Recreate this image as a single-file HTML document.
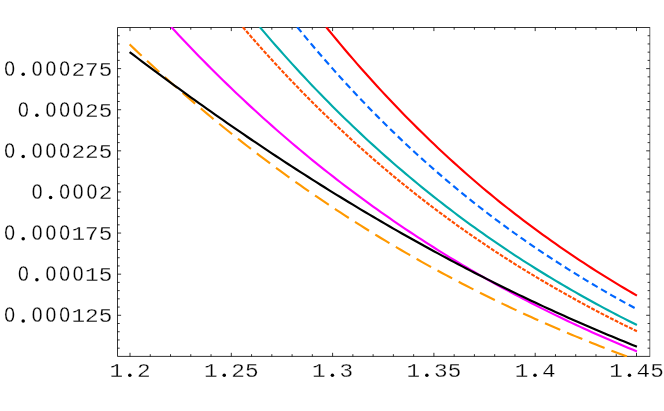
<!DOCTYPE html>
<html><head><meta charset="utf-8"><title>plot</title>
<style>
html,body{margin:0;padding:0;background:#fff;}
svg{display:block;}
text{font-family:"Liberation Mono",monospace;font-size:21.8px;fill:#000;stroke:#fff;stroke-width:0.28px;}
.d{stroke-linejoin:round;stroke:#000;stroke-width:0.8px;}
</style></head><body>
<svg width="664" height="411" viewBox="0 0 664 411">
<rect x="0" y="0" width="664" height="411" fill="#fff"/>
<defs><clipPath id="c"><rect x="117.5" y="27.0" width="532.3" height="329.9"/></clipPath><filter id="gs" x="0" y="0" width="664" height="411" filterUnits="userSpaceOnUse" color-interpolation-filters="sRGB"><feColorMatrix type="saturate" values="0"/></filter></defs>
<g stroke="#000" stroke-width="0.8" fill="none" shape-rendering="auto">
<path d="M649.8 27.5H117.5V356.4H649.8"/>
<path d="M649.8 27.1V356.79999999999995" stroke-opacity="0.75"/>
<path d="M130.00 356.40v-3.60M130.00 27.50v3.60M150.26 356.40v-2.20M150.26 27.50v2.20M170.52 356.40v-2.20M170.52 27.50v2.20M190.78 356.40v-2.20M190.78 27.50v2.20M211.04 356.40v-2.20M211.04 27.50v2.20M231.30 356.40v-3.60M231.30 27.50v3.60M251.56 356.40v-2.20M251.56 27.50v2.20M271.82 356.40v-2.20M271.82 27.50v2.20M292.08 356.40v-2.20M292.08 27.50v2.20M312.34 356.40v-2.20M312.34 27.50v2.20M332.60 356.40v-3.60M332.60 27.50v3.60M352.86 356.40v-2.20M352.86 27.50v2.20M373.12 356.40v-2.20M373.12 27.50v2.20M393.38 356.40v-2.20M393.38 27.50v2.20M413.64 356.40v-2.20M413.64 27.50v2.20M433.90 356.40v-3.60M433.90 27.50v3.60M454.16 356.40v-2.20M454.16 27.50v2.20M474.42 356.40v-2.20M474.42 27.50v2.20M494.68 356.40v-2.20M494.68 27.50v2.20M514.94 356.40v-2.20M514.94 27.50v2.20M535.20 356.40v-3.60M535.20 27.50v3.60M555.46 356.40v-2.20M555.46 27.50v2.20M575.72 356.40v-2.20M575.72 27.50v2.20M595.98 356.40v-2.20M595.98 27.50v2.20M616.24 356.40v-2.20M616.24 27.50v2.20M636.50 356.40v-3.60M636.50 27.50v3.60M117.50 348.18h2.20M649.80 348.18h-2.20M117.50 339.95h2.20M649.80 339.95h-2.20M117.50 331.73h2.20M649.80 331.73h-2.20M117.50 323.51h2.20M649.80 323.51h-2.20M117.50 315.29h3.60M649.80 315.29h-3.60M117.50 307.06h2.20M649.80 307.06h-2.20M117.50 298.84h2.20M649.80 298.84h-2.20M117.50 290.62h2.20M649.80 290.62h-2.20M117.50 282.40h2.20M649.80 282.40h-2.20M117.50 274.17h3.60M649.80 274.17h-3.60M117.50 265.95h2.20M649.80 265.95h-2.20M117.50 257.73h2.20M649.80 257.73h-2.20M117.50 249.51h2.20M649.80 249.51h-2.20M117.50 241.28h2.20M649.80 241.28h-2.20M117.50 233.06h3.60M649.80 233.06h-3.60M117.50 224.84h2.20M649.80 224.84h-2.20M117.50 216.62h2.20M649.80 216.62h-2.20M117.50 208.39h2.20M649.80 208.39h-2.20M117.50 200.17h2.20M649.80 200.17h-2.20M117.50 191.95h3.60M649.80 191.95h-3.60M117.50 183.73h2.20M649.80 183.73h-2.20M117.50 175.50h2.20M649.80 175.50h-2.20M117.50 167.28h2.20M649.80 167.28h-2.20M117.50 159.06h2.20M649.80 159.06h-2.20M117.50 150.84h3.60M649.80 150.84h-3.60M117.50 142.61h2.20M649.80 142.61h-2.20M117.50 134.39h2.20M649.80 134.39h-2.20M117.50 126.17h2.20M649.80 126.17h-2.20M117.50 117.95h2.20M649.80 117.95h-2.20M117.50 109.72h3.60M649.80 109.72h-3.60M117.50 101.50h2.20M649.80 101.50h-2.20M117.50 93.28h2.20M649.80 93.28h-2.20M117.50 85.06h2.20M649.80 85.06h-2.20M117.50 76.83h2.20M649.80 76.83h-2.20M117.50 68.61h3.60M649.80 68.61h-3.60M117.50 60.39h2.20M649.80 60.39h-2.20M117.50 52.17h2.20M649.80 52.17h-2.20M117.50 43.94h2.20M649.80 43.94h-2.20M117.50 35.72h2.20M649.80 35.72h-2.20" stroke-width="0.8"/>
</g>
<g clip-path="url(#c)" fill="none" stroke-linecap="butt" stroke-linejoin="round">
<path d="M326.14 27.00 L328.55 29.96 L332.60 34.91 L336.65 39.80 L340.70 44.65 L344.76 49.46 L348.81 54.21 L352.86 58.92 L356.91 63.59 L360.96 68.21 L365.02 72.78 L369.07 77.31 L373.12 81.80 L377.17 86.24 L381.22 90.64 L385.28 95.00 L389.33 99.32 L393.38 103.59 L397.43 107.82 L401.48 112.01 L405.54 116.16 L409.59 120.27 L413.64 124.34 L417.69 128.37 L421.74 132.35 L425.80 136.31 L429.85 140.22 L433.90 144.09 L437.95 147.93 L442.00 151.73 L446.06 155.49 L450.11 159.21 L454.16 162.90 L458.21 166.55 L462.26 170.17 L466.32 173.75 L470.37 177.29 L474.42 180.80 L478.47 184.28 L482.52 187.71 L486.58 191.09 L490.63 194.44 L494.68 197.76 L498.73 201.04 L502.78 204.29 L506.84 207.51 L510.89 210.70 L514.94 213.85 L518.99 216.97 L523.04 220.07 L527.10 223.13 L531.15 226.16 L535.20 229.16 L539.25 232.13 L543.30 235.07 L547.36 237.98 L551.41 240.87 L555.46 243.72 L559.51 246.55 L563.56 249.35 L567.62 252.13 L571.67 254.88 L575.72 257.61 L579.77 260.31 L583.82 262.97 L587.88 265.62 L591.93 268.23 L595.98 270.83 L600.03 273.39 L604.08 275.93 L608.14 278.44 L612.19 280.93 L616.24 283.39 L620.29 285.83 L624.34 288.25 L628.40 290.64 L632.45 293.00 L636.50 295.34 L636.91 295.58" stroke="#ff0000" stroke-width="2.15"/>
<path d="M297.19 27.00 L300.18 30.67 L304.24 35.58 L308.29 40.45 L312.34 45.27 L316.39 50.05 L320.44 54.77 L324.50 59.45 L328.55 64.08 L332.60 68.66 L336.65 73.19 L340.70 77.68 L344.76 82.13 L348.81 86.53 L352.86 90.89 L356.91 95.20 L360.96 99.47 L365.02 103.70 L369.07 107.88 L373.12 112.02 L377.17 116.12 L381.22 120.18 L385.28 124.20 L389.33 128.18 L393.38 132.11 L397.43 136.01 L401.48 139.87 L405.54 143.69 L409.59 147.47 L413.64 151.22 L417.69 154.92 L421.74 158.59 L425.80 162.22 L429.85 165.82 L433.90 169.38 L437.95 172.90 L442.00 176.39 L446.06 179.84 L450.11 183.26 L454.16 186.64 L458.21 189.99 L462.26 193.31 L466.32 196.59 L470.37 199.84 L474.42 203.06 L478.47 206.24 L482.52 209.39 L486.58 212.51 L490.63 215.60 L494.68 218.66 L498.73 221.69 L502.78 224.69 L506.84 227.65 L510.89 230.59 L514.94 233.50 L518.99 236.38 L523.04 239.23 L527.10 242.05 L531.15 244.84 L535.20 247.61 L539.25 250.34 L543.30 253.05 L547.36 255.74 L551.41 258.39 L555.46 261.02 L559.51 263.62 L563.56 266.23 L567.62 268.81 L571.67 271.36 L575.72 273.89 L579.77 276.40 L583.82 278.88 L587.88 281.34 L591.93 283.77 L595.98 286.18 L600.03 288.56 L604.08 290.92 L608.14 293.26 L612.19 295.57 L616.24 297.86 L620.29 300.13 L624.34 302.37 L628.40 304.60 L632.45 306.80 L636.50 308.98 L636.91 309.20" stroke="#0066ff" stroke-width="2.15" stroke-dasharray="6.64 3.98"/>
<path d="M259.76 27.00 L263.72 31.67 L267.77 36.40 L271.82 41.08 L275.87 45.73 L279.92 50.33 L283.98 54.89 L288.03 59.40 L292.08 63.88 L296.13 68.31 L300.18 72.70 L304.24 77.05 L308.29 81.37 L312.34 85.64 L316.39 89.87 L320.44 94.06 L324.50 98.21 L328.55 102.33 L332.60 106.41 L336.65 110.45 L340.70 114.45 L344.76 118.41 L348.81 122.34 L352.86 126.23 L356.91 130.08 L360.96 133.90 L365.02 137.68 L369.07 141.43 L373.12 145.14 L377.17 148.82 L381.22 152.47 L385.28 156.08 L389.33 159.65 L393.38 163.19 L397.43 166.70 L401.48 170.18 L405.54 173.62 L409.59 177.03 L413.64 180.41 L417.69 183.76 L421.74 187.08 L425.80 190.36 L429.85 193.62 L433.90 196.84 L437.95 200.03 L442.00 203.20 L446.06 206.33 L450.11 209.43 L454.16 212.51 L458.21 215.56 L462.26 218.57 L466.32 221.56 L470.37 224.52 L474.42 227.45 L478.47 230.36 L482.52 233.24 L486.58 236.08 L490.63 238.91 L494.68 241.70 L498.73 244.47 L502.78 247.22 L506.84 249.93 L510.89 252.63 L514.94 255.29 L518.99 257.93 L523.04 260.55 L527.10 263.14 L531.15 265.70 L535.20 268.25 L539.25 270.76 L543.30 273.26 L547.36 275.73 L551.41 278.17 L555.46 280.60 L559.51 283.00 L563.56 285.39 L567.62 287.76 L571.67 290.10 L575.72 292.43 L579.77 294.73 L583.82 297.01 L587.88 299.27 L591.93 301.51 L595.98 303.73 L600.03 305.92 L604.08 308.10 L608.14 310.25 L612.19 312.38 L616.24 314.50 L620.29 316.59 L624.34 318.66 L628.40 320.71 L632.45 322.75 L636.50 324.76 L636.91 324.96" stroke="#00aaaa" stroke-width="2.15"/>
<path d="M242.76 27.00 L243.46 27.82 L247.51 32.52 L251.56 37.17 L255.61 41.79 L259.66 46.36 L263.72 50.90 L267.77 55.39 L271.82 59.84 L275.87 64.25 L279.92 68.62 L283.98 72.95 L288.03 77.24 L292.08 81.49 L296.13 85.71 L300.18 89.88 L304.24 94.02 L308.29 98.12 L312.34 102.18 L316.39 106.21 L320.44 110.19 L324.50 114.15 L328.55 118.06 L332.60 121.94 L336.65 125.79 L340.70 129.59 L344.76 133.37 L348.81 137.11 L352.86 140.81 L356.91 144.49 L360.96 148.12 L365.02 151.73 L369.07 155.30 L373.12 158.84 L377.17 162.34 L381.22 165.82 L385.28 169.26 L389.33 172.67 L393.38 176.05 L397.43 179.39 L401.48 182.71 L405.54 186.00 L409.59 189.25 L413.64 192.48 L417.69 195.67 L421.74 198.84 L425.80 201.98 L429.85 205.08 L433.90 208.16 L437.95 211.21 L442.00 214.23 L446.06 217.23 L450.11 220.19 L454.16 223.13 L458.21 226.04 L462.26 228.93 L466.32 231.79 L470.37 234.62 L474.42 237.42 L478.47 240.20 L482.52 242.95 L486.58 245.68 L490.63 248.38 L494.68 251.06 L498.73 253.71 L502.78 256.33 L506.84 258.93 L510.89 261.51 L514.94 264.06 L518.99 266.59 L523.04 269.10 L527.10 271.58 L531.15 274.04 L535.20 276.48 L539.25 278.89 L543.30 281.28 L547.36 283.65 L551.41 285.99 L555.46 288.31 L559.51 290.61 L563.56 292.92 L567.62 295.21 L571.67 297.48 L575.72 299.73 L579.77 301.95 L583.82 304.16 L587.88 306.34 L591.93 308.51 L595.98 310.65 L600.03 312.78 L604.08 314.88 L608.14 316.97 L612.19 319.03 L616.24 321.08 L620.29 323.11 L624.34 325.11 L628.40 327.10 L632.45 329.07 L636.50 331.03 L636.91 331.22" stroke="#ff4d00" stroke-width="2.15" stroke-dasharray="3.9 1.4"/>
<path d="M171.24 27.00 L174.57 30.60 L178.62 34.94 L182.68 39.25 L186.73 43.52 L190.78 47.76 L194.83 51.96 L198.88 56.13 L202.94 60.27 L206.99 64.37 L211.04 68.44 L215.09 72.48 L219.14 76.48 L223.20 80.45 L227.25 84.39 L231.30 88.30 L235.35 92.17 L239.40 96.02 L243.46 99.83 L247.51 103.61 L251.56 107.36 L255.61 111.08 L259.66 114.77 L263.72 118.43 L267.77 122.06 L271.82 125.66 L275.87 129.23 L279.92 132.77 L283.98 136.28 L288.03 139.76 L292.08 143.21 L296.13 146.64 L300.18 150.03 L304.24 153.40 L308.29 156.74 L312.34 160.05 L316.39 163.34 L320.44 166.59 L324.50 169.82 L328.55 173.03 L332.60 176.20 L336.65 179.35 L340.70 182.48 L344.76 185.58 L348.81 188.65 L352.86 191.69 L356.91 194.72 L360.96 197.71 L365.02 200.68 L369.07 203.63 L373.12 206.55 L377.17 209.44 L381.22 212.31 L385.28 215.16 L389.33 217.98 L393.38 220.78 L397.43 223.56 L401.48 226.31 L405.54 229.04 L409.59 231.74 L413.64 234.43 L417.69 237.09 L421.74 239.72 L425.80 242.34 L429.85 244.93 L433.90 247.50 L437.95 250.05 L442.00 252.57 L446.06 255.08 L450.11 257.56 L454.16 260.02 L458.21 262.47 L462.26 264.89 L466.32 267.28 L470.37 269.66 L474.42 272.02 L478.47 274.36 L482.52 276.68 L486.58 278.97 L490.63 281.25 L494.68 283.51 L498.73 285.75 L502.78 287.97 L506.84 290.17 L510.89 292.35 L514.94 294.51 L518.99 296.65 L523.04 298.78 L527.10 300.88 L531.15 302.97 L535.20 305.04 L539.25 307.09 L543.30 309.12 L547.36 311.14 L551.41 313.13 L555.46 315.11 L559.51 317.08 L563.56 319.02 L567.62 320.95 L571.67 322.86 L575.72 324.76 L579.77 326.63 L583.82 328.50 L587.88 330.34 L591.93 332.17 L595.98 333.98 L600.03 335.78 L604.08 337.56 L608.14 339.32 L612.19 341.07 L616.24 342.80 L620.29 344.52 L624.34 346.22 L628.40 347.91 L632.45 349.58 L636.50 351.24 L636.91 351.41" stroke="#ff00ff" stroke-width="2.15"/>
<path d="M129.59 44.38 L130.00 44.77 L134.05 48.63 L138.10 52.46 L142.16 56.27 L146.21 60.05 L150.26 63.81 L154.31 67.53 L158.36 71.23 L162.42 74.91 L166.47 78.56 L170.52 82.18 L174.57 85.78 L178.62 89.35 L182.68 92.89 L186.73 96.41 L190.78 99.90 L194.83 103.37 L198.88 106.82 L202.94 110.24 L206.99 113.63 L211.04 117.00 L215.09 120.35 L219.14 123.67 L223.20 126.97 L227.25 130.24 L231.30 133.49 L235.35 136.72 L239.40 139.92 L243.46 143.10 L247.51 146.25 L251.56 149.38 L255.61 152.49 L259.66 155.58 L263.72 158.65 L267.77 161.69 L271.82 164.71 L275.87 167.70 L279.92 170.68 L283.98 173.63 L288.03 176.56 L292.08 179.47 L296.13 182.36 L300.18 185.22 L304.24 188.07 L308.29 190.89 L312.34 193.69 L316.39 196.47 L320.44 199.23 L324.50 201.97 L328.55 204.69 L332.60 207.39 L336.65 210.07 L340.70 212.72 L344.76 215.36 L348.81 217.98 L352.86 220.58 L356.91 223.16 L360.96 225.71 L365.02 228.25 L369.07 230.77 L373.12 233.27 L377.17 235.76 L381.22 238.22 L385.28 240.66 L389.33 243.09 L393.38 245.49 L397.43 247.88 L401.48 250.25 L405.54 252.60 L409.59 254.94 L413.64 257.25 L417.69 259.55 L421.74 261.83 L425.80 264.09 L429.85 266.34 L433.90 268.56 L437.95 270.77 L442.00 272.97 L446.06 275.14 L450.11 277.30 L454.16 279.44 L458.21 281.57 L462.26 283.68 L466.32 285.77 L470.37 287.84 L474.42 289.90 L478.47 291.94 L482.52 293.97 L486.58 295.98 L490.63 297.98 L494.68 299.96 L498.73 301.92 L502.78 303.87 L506.84 305.80 L510.89 307.72 L514.94 309.62 L518.99 311.51 L523.04 313.38 L527.10 315.23 L531.15 317.08 L535.20 318.90 L539.25 320.72 L543.30 322.51 L547.36 324.30 L551.41 326.07 L555.46 327.82 L559.51 329.56 L563.56 331.29 L567.62 333.00 L571.67 334.70 L575.72 336.38 L579.77 338.06 L583.82 339.71 L587.88 341.36 L591.93 342.99 L595.98 344.61 L600.03 346.21 L604.08 347.80 L608.14 349.38 L612.19 350.95 L616.24 352.50 L620.29 354.04 L624.34 355.57 L627.91 356.90" stroke="#ff9900" stroke-width="2.15" stroke-dasharray="16.6 7.35"/>
<path d="M129.59 52.07 L130.00 52.38 L134.05 55.44 L138.10 58.50 L142.16 61.55 L146.21 64.58 L150.26 67.61 L154.31 70.62 L158.36 73.63 L162.42 76.62 L166.47 79.60 L170.52 82.58 L174.57 85.54 L178.62 88.49 L182.68 91.43 L186.73 94.36 L190.78 97.28 L194.83 100.19 L198.88 103.09 L202.94 105.97 L206.99 108.85 L211.04 111.71 L215.09 114.57 L219.14 117.41 L223.20 120.24 L227.25 123.06 L231.30 125.87 L235.35 128.66 L239.40 131.45 L243.46 134.22 L247.51 136.99 L251.56 139.74 L255.61 142.48 L259.66 145.21 L263.72 147.92 L267.77 150.63 L271.82 153.32 L275.87 156.00 L279.92 158.67 L283.98 161.33 L288.03 163.98 L292.08 166.61 L296.13 169.23 L300.18 171.84 L304.24 174.44 L308.29 177.03 L312.34 179.60 L316.39 182.17 L320.44 184.72 L324.50 187.26 L328.55 189.79 L332.60 192.30 L336.65 194.80 L340.70 197.29 L344.76 199.77 L348.81 202.24 L352.86 204.69 L356.91 207.14 L360.96 209.57 L365.02 211.99 L369.07 214.39 L373.12 216.79 L377.17 219.17 L381.22 221.54 L385.28 223.89 L389.33 226.24 L393.38 228.57 L397.43 230.89 L401.48 233.20 L405.54 235.50 L409.59 237.78 L413.64 240.06 L417.69 242.31 L421.74 244.56 L425.80 246.80 L429.85 249.02 L433.90 251.23 L437.95 253.43 L442.00 255.62 L446.06 257.79 L450.11 259.95 L454.16 262.10 L458.21 264.24 L462.26 266.37 L466.32 268.48 L470.37 270.58 L474.42 272.67 L478.47 274.75 L482.52 276.81 L486.58 278.87 L490.63 280.91 L494.68 282.94 L498.73 284.95 L502.78 286.96 L506.84 288.95 L510.89 290.93 L514.94 292.90 L518.99 294.86 L523.04 296.80 L527.10 298.74 L531.15 300.66 L535.20 302.57 L539.25 304.46 L543.30 306.35 L547.36 308.22 L551.41 310.08 L555.46 311.93 L559.51 313.77 L563.56 315.60 L567.62 317.41 L571.67 319.22 L575.72 321.01 L579.77 322.79 L583.82 324.56 L587.88 326.31 L591.93 328.06 L595.98 329.79 L600.03 331.51 L604.08 333.22 L608.14 334.92 L612.19 336.61 L616.24 338.29 L620.29 339.95 L624.34 341.61 L628.40 343.25 L632.45 344.88 L636.50 346.50 L636.91 346.66" stroke="#000000" stroke-width="2.15"/>
</g>
<g filter="url(#gs)" text-anchor="middle">
<text transform="translate(116.30 376.60) scale(1.04 0.906)">1</text>
<circle cx="129.80" cy="375.30" r="1.75" fill="#000"/>
<text transform="translate(143.70 376.60) scale(1.04 0.906)">2</text>
<text transform="translate(210.75 376.60) scale(1.04 0.906)">1</text>
<circle cx="224.25" cy="375.30" r="1.75" fill="#000"/>
<text transform="translate(238.15 376.60) scale(1.04 0.906)">2</text>
<text transform="translate(251.85 376.60) scale(1.04 0.906)">5</text>
<text transform="translate(318.90 376.60) scale(1.04 0.906)">1</text>
<circle cx="332.40" cy="375.30" r="1.75" fill="#000"/>
<text transform="translate(346.30 376.60) scale(1.04 0.906)">3</text>
<text transform="translate(413.35 376.60) scale(1.04 0.906)">1</text>
<circle cx="426.85" cy="375.30" r="1.75" fill="#000"/>
<text transform="translate(440.75 376.60) scale(1.04 0.906)">3</text>
<text transform="translate(454.45 376.60) scale(1.04 0.906)">5</text>
<text transform="translate(521.50 376.60) scale(1.04 0.906)">1</text>
<circle cx="535.00" cy="375.30" r="1.75" fill="#000"/>
<text transform="translate(548.90 376.60) scale(1.04 0.906)">4</text>
<text transform="translate(615.95 376.60) scale(1.04 0.906)">1</text>
<circle cx="629.45" cy="375.30" r="1.75" fill="#000"/>
<text transform="translate(643.35 376.60) scale(1.04 0.906)">4</text>
<text transform="translate(657.05 376.60) scale(1.04 0.906)">5</text>
<text transform="translate(9.70 322.19) scale(0.86 0.99)">O</text>
<circle cx="23.20" cy="320.89" r="1.75" fill="#000"/>
<text transform="translate(37.10 322.19) scale(0.86 0.99)">O</text>
<text transform="translate(50.80 322.19) scale(0.86 0.99)">O</text>
<text transform="translate(64.50 322.19) scale(0.86 0.99)">O</text>
<text transform="translate(78.20 322.19) scale(1.04 0.906)">1</text>
<text transform="translate(91.90 322.19) scale(1.04 0.906)">2</text>
<text transform="translate(105.60 322.19) scale(1.04 0.906)">5</text>
<text transform="translate(23.40 281.07) scale(0.86 0.99)">O</text>
<circle cx="36.90" cy="279.77" r="1.75" fill="#000"/>
<text transform="translate(50.80 281.07) scale(0.86 0.99)">O</text>
<text transform="translate(64.50 281.07) scale(0.86 0.99)">O</text>
<text transform="translate(78.20 281.07) scale(0.86 0.99)">O</text>
<text transform="translate(91.90 281.07) scale(1.04 0.906)">1</text>
<text transform="translate(105.60 281.07) scale(1.04 0.906)">5</text>
<text transform="translate(9.70 239.96) scale(0.86 0.99)">O</text>
<circle cx="23.20" cy="238.66" r="1.75" fill="#000"/>
<text transform="translate(37.10 239.96) scale(0.86 0.99)">O</text>
<text transform="translate(50.80 239.96) scale(0.86 0.99)">O</text>
<text transform="translate(64.50 239.96) scale(0.86 0.99)">O</text>
<text transform="translate(78.20 239.96) scale(1.04 0.906)">1</text>
<text transform="translate(91.90 239.96) scale(1.04 0.906)">7</text>
<text transform="translate(105.60 239.96) scale(1.04 0.906)">5</text>
<text transform="translate(37.10 198.85) scale(0.86 0.99)">O</text>
<circle cx="50.60" cy="197.55" r="1.75" fill="#000"/>
<text transform="translate(64.50 198.85) scale(0.86 0.99)">O</text>
<text transform="translate(78.20 198.85) scale(0.86 0.99)">O</text>
<text transform="translate(91.90 198.85) scale(0.86 0.99)">O</text>
<text transform="translate(105.60 198.85) scale(1.04 0.906)">2</text>
<text transform="translate(9.70 157.74) scale(0.86 0.99)">O</text>
<circle cx="23.20" cy="156.44" r="1.75" fill="#000"/>
<text transform="translate(37.10 157.74) scale(0.86 0.99)">O</text>
<text transform="translate(50.80 157.74) scale(0.86 0.99)">O</text>
<text transform="translate(64.50 157.74) scale(0.86 0.99)">O</text>
<text transform="translate(78.20 157.74) scale(1.04 0.906)">2</text>
<text transform="translate(91.90 157.74) scale(1.04 0.906)">2</text>
<text transform="translate(105.60 157.74) scale(1.04 0.906)">5</text>
<text transform="translate(23.40 116.62) scale(0.86 0.99)">O</text>
<circle cx="36.90" cy="115.32" r="1.75" fill="#000"/>
<text transform="translate(50.80 116.62) scale(0.86 0.99)">O</text>
<text transform="translate(64.50 116.62) scale(0.86 0.99)">O</text>
<text transform="translate(78.20 116.62) scale(0.86 0.99)">O</text>
<text transform="translate(91.90 116.62) scale(1.04 0.906)">2</text>
<text transform="translate(105.60 116.62) scale(1.04 0.906)">5</text>
<text transform="translate(9.70 75.51) scale(0.86 0.99)">O</text>
<circle cx="23.20" cy="74.21" r="1.75" fill="#000"/>
<text transform="translate(37.10 75.51) scale(0.86 0.99)">O</text>
<text transform="translate(50.80 75.51) scale(0.86 0.99)">O</text>
<text transform="translate(64.50 75.51) scale(0.86 0.99)">O</text>
<text transform="translate(78.20 75.51) scale(1.04 0.906)">2</text>
<text transform="translate(91.90 75.51) scale(1.04 0.906)">7</text>
<text transform="translate(105.60 75.51) scale(1.04 0.906)">5</text>
</g>
</svg>
</body></html>
